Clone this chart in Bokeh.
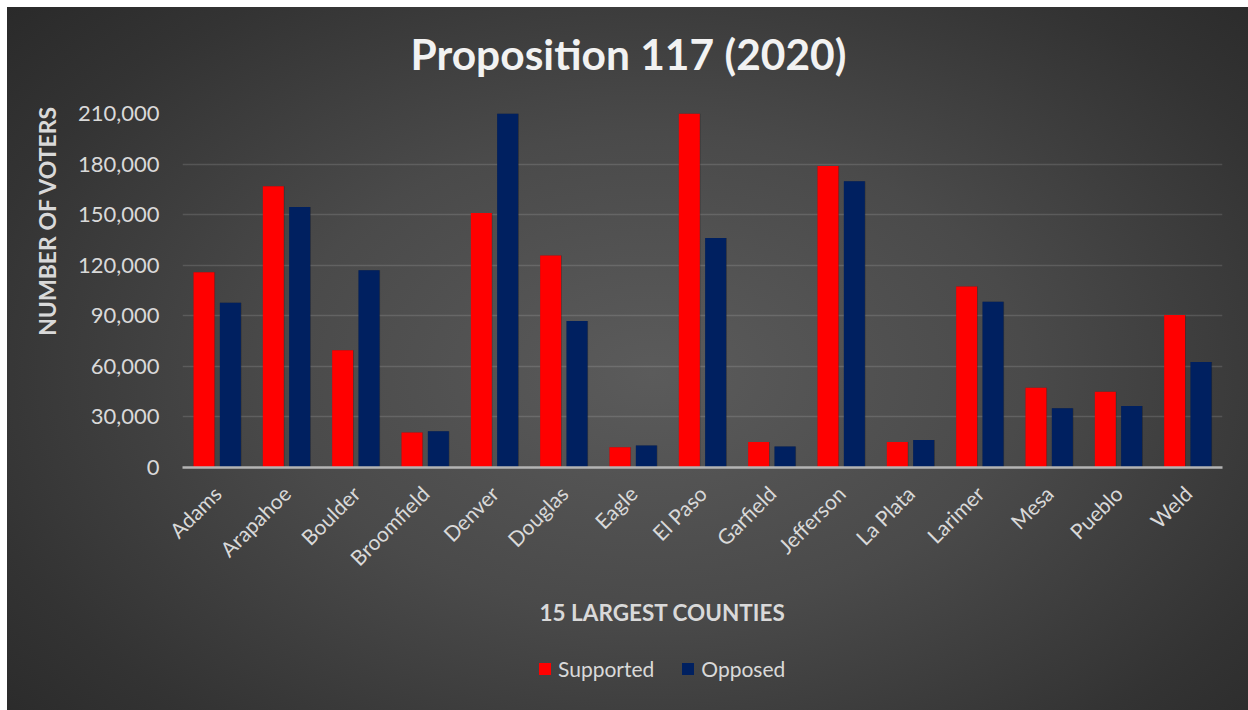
from bokeh.plotting import figure
from bokeh.layouts import column
from bokeh.models import (ColumnDataSource, FactorRange, Range1d, NumeralTickFormatter,
                          FixedTicker, Legend, LegendItem, Title)
from bokeh.transform import dodge
from bokeh.embed import file_html
from bokeh.resources import INLINE

counties = ["Adams", "Arapahoe", "Boulder", "Broomfield", "Denver", "Douglas", "Eagle",
            "El Paso", "Garfield", "Jefferson", "La Plata", "Larimer", "Mesa", "Pueblo", "Weld"]
supported = [115800, 166800, 69500, 20800, 151000, 125800, 12000,
             210000, 15100, 178800, 15100, 107400, 47300, 44900, 90500]
opposed = [97800, 154500, 117000, 21500, 210000, 86900, 13100,
           136200, 12500, 169800, 16300, 98300, 35100, 36500, 62600]
y_ticks = [0, 30000, 60000, 90000, 120000, 150000, 180000, 210000]

src = ColumnDataSource(dict(county=counties, supported=supported, opposed=opposed))

FONT = "Lato"
TXT = "#d9d9d9"
RED = "#ff0000"
BLUE = "#002060"
W = 1241


def strip(height):
    f = figure(x_range=FactorRange(*counties), y_range=Range1d(0, 1),
               width=W, height=height, output_backend="svg", toolbar_location=None,
               x_axis_location=None, y_axis_location=None, min_border=0)
    f.background_fill_alpha = 0
    f.border_fill_alpha = 0
    f.outline_line_color = None
    f.grid.visible = False
    return f


# ---- title strip
tf = strip(78)
t = Title(text="Proposition 117 (2020)", align="left", offset=228, text_font=FONT,
          text_font_size="42.5px", text_font_style="bold", text_color="#f2f2f2", standoff=13)
tf.add_layout(t, "below")

# ---- main chart
p = figure(x_range=FactorRange(*counties), y_range=Range1d(0, 210000),
           width=W, height=555, output_backend="svg", toolbar_location=None,
           min_border_left=175, min_border_right=26, min_border_top=28,
           min_border_bottom=171)
p.background_fill_alpha = 0
p.border_fill_alpha = 0
p.outline_line_color = None

# shadows
p.vbar(x=dodge("county", -0.185, range=p.x_range), top="supported", width=0.31, source=src,
       fill_color="black", fill_alpha=0.3, line_color=None)
p.vbar(x=dodge("county", 0.195, range=p.x_range), top="opposed", width=0.31, source=src,
       fill_color="black", fill_alpha=0.3, line_color=None)

p.vbar(x=dodge("county", -0.19, range=p.x_range), top="supported", width=0.303, source=src,
       fill_color=RED, line_color=None)
p.vbar(x=dodge("county", 0.19, range=p.x_range), top="opposed", width=0.303, source=src,
       fill_color=BLUE, line_color=None)

p.yaxis.ticker = FixedTicker(ticks=y_ticks)
p.yaxis.formatter = NumeralTickFormatter(format="0,0")
p.yaxis.axis_line_color = None
p.yaxis.major_tick_line_color = None
p.yaxis.minor_tick_line_color = None
p.yaxis.major_label_standoff = 17
p.yaxis.major_label_text_font = FONT
p.yaxis.major_label_text_font_size = "22px"
p.yaxis.major_label_text_color = TXT

p.xaxis.axis_line_color = "#b4b4b4"
p.xaxis.axis_line_width = 2.5
p.xaxis.major_tick_line_color = None
p.xaxis.minor_tick_line_color = None
p.xaxis.major_label_orientation = 0.785398
p.xaxis.major_label_standoff = 16
p.xaxis.major_label_text_font = FONT
p.xaxis.major_label_text_font_size = "21px"
p.xaxis.major_label_text_color = TXT

p.xgrid.grid_line_color = None
p.ygrid.grid_line_color = "#ffffff"
p.ygrid.grid_line_alpha = 0.13
p.ygrid.grid_line_width = 1.6

ylab = Title(text="NUMBER OF VOTERS", align="right", offset=-8, text_font=FONT,
             text_font_size="23px", text_font_style="bold", text_color=TXT, standoff=27)
p.add_layout(ylab, "left")

xlab = Title(text="15 LARGEST COUNTIES", align="left", offset=357, text_font=FONT,
             text_font_size="22.5px", text_font_style="bold", text_color=TXT, standoff=30)
p.add_layout(xlab, "below")

# ---- legend strip
lg = strip(70)
l1 = lg.vbar(x="county", top="supported", width=0.3, source=src, fill_color=RED,
             line_color=None, visible=False)
l2 = lg.vbar(x="county", top="opposed", width=0.3, source=src, fill_color=BLUE,
             line_color=None, visible=False)
legend = Legend(items=[LegendItem(label="Supported", renderers=[l1]),
                       LegendItem(label="Opposed", renderers=[l2])],
                orientation="horizontal", location=(355, 29),
                background_fill_alpha=0, border_line_color=None,
                label_text_font=FONT, label_text_font_size="21px", label_text_color=TXT,
                glyph_width=15, glyph_height=15, label_standoff=6, spacing=26,
                padding=0, margin=0)
lg.add_layout(legend, "center")

layout = column(tf, p, lg, spacing=0)
layout.styles = {"margin-left": "7px", "margin-top": "7px",
                 "background": "radial-gradient(ellipse 75% 85% at 52% 52%, #5b5b5b 0%, #4a4a4a 40%, #333333 75%, #262626 100%)"}

open("out.html", "w").write(file_html(layout, INLINE))
